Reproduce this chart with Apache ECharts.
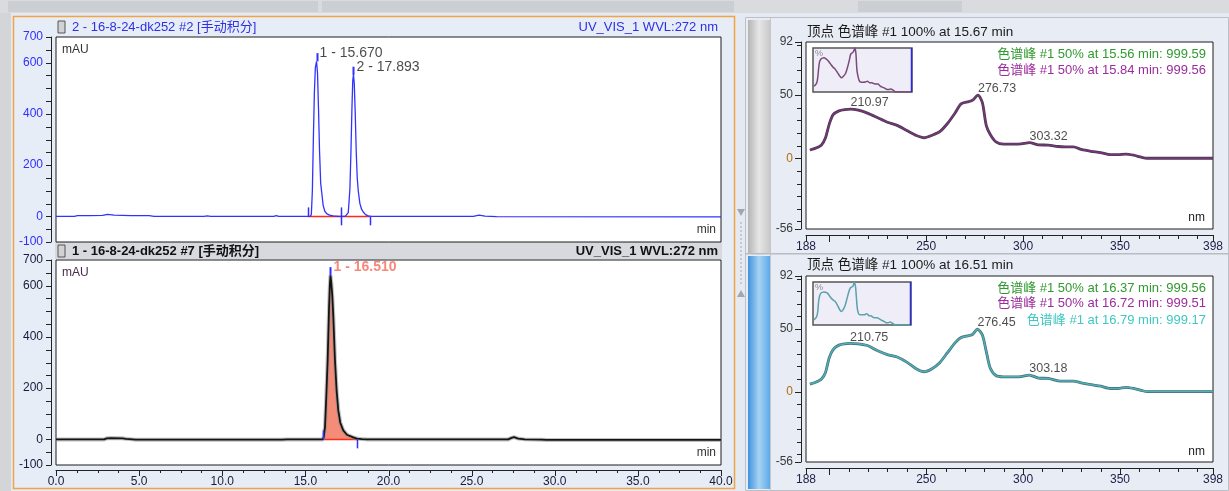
<!DOCTYPE html>
<html>
<head>
<meta charset="utf-8">
<script src="https://cdn.jsdelivr.net/npm/echarts@6/dist/echarts.min.js"></script>
<style>
  html, body { margin: 0; padding: 0; background: #e4e9f2; }
  #chart { width: 1229px; height: 491px; }
</style>
</head>
<body>
<div id="chart"></div>
<script>
// ---------- Chromatograms: [retention time (min), signal (mAU)] ----------
const traceSample2 = [
  [0,0],[1.1,0],[1.3,3],[2.0,3],[2.8,4],[3.1,8],[3.5,5],[4.5,3],[5.6,3],[5.9,0],
  [8.9,0],[9.1,2],[9.3,0],[13.1,0],[13.25,3],[13.4,0],[15.30,0],[15.36,8],[15.42,100],
  [15.48,300],[15.54,480],[15.60,580],[15.67,605],[15.73,560],[15.79,420],[15.85,260],
  [15.92,130],[15.98,95],[16.07,43],[16.17,20],[16.28,11],[16.45,5],[16.67,2],[17.0,0],
  [17.40,0],[17.52,5],[17.58,15],[17.63,60],[17.68,110],[17.74,250],[17.80,420],[17.85,530],
  [17.893,552],[17.94,520],[18.00,400],[18.06,250],[18.12,150],[18.18,100],[18.28,50],
  [18.38,28],[18.48,17],[18.62,7],[18.78,2],[19.0,0],[25.1,0],[25.45,5],[25.8,1],[26.5,-1],[40,-2]
];
const traceSample7 = [
  [0,0],[2.9,0],[3.05,4],[3.3,5],[4.0,4],[4.2,2],[4.6,0],[4.8,-1],[13.6,-1],[13.9,0],
  [16.04,0],[16.10,8],[16.18,48],[16.26,170],[16.34,310],[16.42,505],[16.47,600],[16.51,640],
  [16.56,610],[16.62,560],[16.68,480],[16.78,310],[16.88,190],[16.98,113],[17.10,65],
  [17.28,35],[17.50,18],[17.88,8],[18.10,3],[18.40,1],[18.70,0],[27.20,0],[27.40,6],
  [27.55,9],[27.80,3],[28.20,0],[29.20,-1],[29.50,-2],[40,-2]
];

// Integration cut points (min) and detected peaks
const cutsSample2 = [15.15, 17.14, 18.88];
const cutsSample7 = [16.04, 18.10];
const peakTimesSample2 = [15.670, 17.893];
const peakHeightsSample2 = [605, 552];
const peakTimesSample7 = [16.510];
const peakHeightsSample7 = [640];

// Chromatogram axis ticks
const chromYTicks = [-100,-50,0,50,100,150,200,250,300,350,400,450,500,550,600,650,700];
const chromYLabels = [-100,0,200,400,600,700];
const chromXMajor = [0,5,10,15,20,25,30,35,40];
const chromXMinor = [1.25,2.5,3.75,6.25,7.5,8.75,11.25,12.5,13.75,16.25,17.5,18.75,
  21.25,22.5,23.75,26.25,27.5,28.75,31.25,32.5,33.75,36.25,37.5,38.75];

// ---------- UV spectra at the peak apex ----------
const wavelengthsA = [190,193,196,198,200,202,205,208,210.97,215,220,225,230,235,240,245,249,253,257,261,
  265,268,272,274,276.73,279,281,283,286,290,295,299,303.32,308,313,318,322,326,330,335,
  340,345,349,353,357,361,364,370,380,390,398];
const absorbanceA = [6.5,8,10.5,16,27,34.5,37.5,38.5,38.9,38,35.5,32,28.5,26,22,18,16.2,18.2,21,27.5,
  36,43,44.8,46,50,44,26,19,13,11.2,11.2,11.4,12.3,10.6,10.4,9.3,9,9,7,5.5,
  4.4,2.8,2.8,3.3,2.4,0.8,0,0,0,0,0];
const wavelengthsB = [190,193,196,198,200,202,205,208,210.75,215,220,225,230,235,240,245,249,253,257,261,
  265,268,272,274,276.45,279,281,283,286,290,295,299,303.18,308,313,318,322,326,330,335,
  340,345,349,353,357,361,364,370,380,390,398];
const absorbanceB = [6,7.5,10,15,27,33.5,37,38,38.4,38,36.5,32.5,29.5,27.5,23.5,18,15.8,18.2,23,31,
  39,43,44.5,45.5,49.8,45,32,19,12.8,11.8,11.8,12,13.2,10.8,10.5,8.6,8.4,8.4,7,5.5,
  4.3,2.5,2.5,3.4,2.5,1,0,0,0,0,0];
const spectrumPeaksA = [210.97, 276.73, 303.32];
const spectrumPeaksB = [210.75, 276.45, 303.18];

// Spectrum axis ticks
const specXTicks = [188,200,210,220,230,240,250,260,270,280,290,300,310,320,330,340,350,360,370,380,390,398];
const specXMajor = [188,200,250,300,350,398];
const specXLabels = [188,250,300,350,398];
const specYTicks = [-56,-50,-40,-30,-20,-10,0,10,20,30,40,50,60,70,80,90,92];
const specYLabels = [-56,0,50,92];

// ---------- helpers ----------
const FONT = "'Liberation Sans', Arial, 'Noto Sans CJK SC', sans-serif";
const CUT_LEN = 35;      // length of integration cut marks, mAU
const APEX_LEN = 32;     // length of apex marks, mAU

function cutMarks(cuts) {
  return cuts.map((t, i) => {
    if (i === 0) return [t, 0, CUT_LEN];
    if (i === cuts.length - 1) return [t, -CUT_LEN, 0];
    return [t, -CUT_LEN, CUT_LEN];
  });
}
function vTicks(grid, items, color, width) {
  return {
    type: 'custom', xAxisIndex: grid, yAxisIndex: grid, silent: true, z: 6,
    data: items, encode: { x: 0, y: [1, 2] },
    renderItem(params, api) {
      const a = api.coord([api.value(0), api.value(1)]);
      const b = api.coord([api.value(0), api.value(2)]);
      const x = Math.round(a[0]) + 0.5;
      return { type: 'line', shape: { x1: x, y1: a[1], x2: x, y2: b[1] },
               style: { stroke: color, lineWidth: width } };
    }
  };
}
// Axis tick marks placed just outside the plot frame, next to the offset axis line
function tickMarks(grid, side, values, ref, len, offset) {
  return {
    type: 'custom', xAxisIndex: grid, yAxisIndex: grid, silent: true, clip: false, z: 6,
    data: values.map(v => (side === 'left' ? [ref, v] : [v, ref])),
    encode: { x: 0, y: 1 },
    renderItem(params, api) {
      const p = api.coord([api.value(0), api.value(1)]);
      let shape;
      if (side === 'left') {
        const y = Math.round(p[1]) + 0.5;
        shape = { x1: p[0] - offset - len, y1: y, x2: p[0] - offset, y2: y };
      } else {
        const x = Math.round(p[0]) + 0.5;
        shape = { x1: x, y1: p[1] + offset, x2: x, y2: p[1] + offset + len };
      }
      return { type: 'line', shape, style: { stroke: '#222', lineWidth: 1 } };
    }
  };
}
function pairs(xs, ys) { return xs.map((x, i) => [x, ys[i]]); }

const chromYAxis = (grid, labelColor) => ({
  gridIndex: grid, type: 'value', min: -100, max: 700, offset: 5,
  axisLine: { show: true, onZero: false, lineStyle: { color: '#222' } },
  axisTick: { show: false },
  axisLabel: { customValues: chromYLabels, color: labelColor, fontSize: 12, fontFamily: FONT, margin: 8 },
  splitLine: { show: false }
});
const specXAxis = (grid) => ({
  gridIndex: grid, type: 'value', min: 188, max: 398, position: 'bottom', offset: 6,
  axisLine: { show: true, onZero: false, lineStyle: { color: '#222' } },
  axisTick: { show: false },
  axisLabel: { customValues: specXLabels, color: '#23234a', fontSize: 12, fontFamily: FONT, margin: 6 },
  splitLine: { show: false }
});
const specYAxis = (grid) => ({
  gridIndex: grid, type: 'value', min: -56, max: 92, position: 'left', offset: 5,
  axisLine: { show: true, onZero: false, lineStyle: { color: '#222' } },
  axisTick: { show: false },
  axisLabel: { customValues: specYLabels, fontSize: 12, fontFamily: FONT, margin: 8,
               color: (v) => (Number(v) === 0 ? '#b36a12' : '#3a3a3a') },
  splitLine: { show: false }
});
const hiddenAxis = (grid, min, max) => ({ gridIndex: grid, type: 'value', min, max, show: false });

function peakLabels(grid, times, heights, color, bold) {
  return {
    type: 'scatter', xAxisIndex: grid, yAxisIndex: grid, symbolSize: 0.1, z: 7,
    itemStyle: { color: 'rgba(0,0,0,0)' },
    data: times.map((t, i) => ({ value: [t, heights[i] + APEX_LEN], name: `${i + 1} - ${t.toFixed(3)}` })),
    label: { show: true, position: 'right', distance: 3, formatter: '{b}', color,
             fontSize: 14, fontWeight: bold ? 'bold' : 'normal', fontFamily: FONT }
  };
}
function spectrumLabels(grid, peaks, wl, ab) {
  return {
    type: 'scatter', xAxisIndex: grid, yAxisIndex: grid, symbolSize: 0.1, z: 7,
    itemStyle: { color: 'rgba(0,0,0,0)' },
    data: peaks.map(p => ({ value: [p, ab[wl.indexOf(p)]], name: p.toFixed(2) })),
    label: { show: true, position: 'top', align: 'left', distance: 0, formatter: '{b}',
             color: '#1e1e1e', fontSize: 12.5, fontFamily: FONT }
  };
}
function spectrumLine(grid, data, edge, core, edgeWidth, coreWidth) {
  return [
    { type: 'line', xAxisIndex: grid, yAxisIndex: grid, data, symbol: 'none', smooth: 0.25,
      lineStyle: { color: edge, width: edgeWidth }, z: 3 },
    { type: 'line', xAxisIndex: grid, yAxisIndex: grid, data, symbol: 'none', smooth: 0.25,
      lineStyle: { color: core, width: coreWidth }, z: 4 }
  ];
}

// ---------- window chrome ----------
const rect = (x, y, w, h, fill, extra) => Object.assign({ type: 'rect', z: -10, silent: true,
  shape: { x, y, width: w, height: h }, style: { fill } }, extra || {});
const txt = (x, y, text, fill, opts) => {
  opts = opts || {};
  return { type: 'text', x, y, z: 20, silent: true,
    style: { text, fill, font: `${opts.weight || 'normal'} ${opts.size || 12}px ${FONT}`,
             textAlign: opts.align || 'left', textVerticalAlign: 'middle' } };
};
const hGrad = (stops) => ({ type: 'linear', x: 0, y: 0, x2: 1, y2: 0,
  colorStops: stops.map((c, i) => ({ offset: i / (stops.length - 1), color: c })) });

const chrome = [
  rect(0, 0, 1229, 491, '#e4e9f2'),
  rect(0, 0, 1229, 13, '#dadbde'),
  rect(8, 1, 310, 11, '#cbced3'), rect(322, 1, 412, 11, '#cbced3'), rect(858, 1, 104, 11, '#cbced3'),
  rect(0, 13, 11, 478, '#d3d5d9'),
  rect(13.5, 16.5, 721, 472, '#e7edf7', { style: { fill: '#e7edf7', stroke: '#f0a444', lineWidth: 1.5 } }),
  rect(55, 242, 667, 17, '#d7d9de'),
  rect(745.5, 17.5, 483, 473, '#e8edf5', { style: { fill: '#e8edf5', stroke: '#bcc0c8', lineWidth: 1 } }),
  rect(748, 20, 22, 233, '', { style: { fill: hGrad(['#b4b4b4', '#e6e6e6', '#c9c9c9']) } }),
  rect(748, 256, 22, 233, '', { style: { fill: hGrad(['#3f92dc', '#a6d3f4', '#5eaae8']) } }),
  rect(770, 18, 1, 472, '#c4c7cc'),
  rect(746, 253, 483, 1.5, '#b8bcc4'),
  { type: 'polygon', z: -9, silent: true, shape: { points: [[737, 209], [745, 209], [741, 216]] }, style: { fill: '#a4a6aa' } },
  { type: 'polygon', z: -9, silent: true, shape: { points: [[737, 297], [745, 297], [741, 290]] }, style: { fill: '#a4a6aa' } },
  { type: 'line', z: -9, silent: true, shape: { x1: 741, y1: 222, x2: 741, y2: 285 },
    style: { stroke: '#a8aaae', lineWidth: 1, lineDash: [2, 2] } },
  rect(58, 21, 7, 12, '#d2d2d2', { z: 15, style: { fill: '#d2d2d2', stroke: '#555', lineWidth: 1 } }),
  rect(58, 245, 7, 12, '#d2d2d2', { z: 15, style: { fill: '#d2d2d2', stroke: '#555', lineWidth: 1 } }),
  { type: 'line', z: 15, silent: true, shape: { x1: 911.5, y1: 48, x2: 911.5, y2: 92 }, style: { stroke: '#2a2ae0', lineWidth: 1.5 } },
  { type: 'line', z: 15, silent: true, shape: { x1: 910.5, y1: 282, x2: 910.5, y2: 325 }, style: { stroke: '#2a2ae0', lineWidth: 1.5 } },

  txt(72, 27, '2 - 16-8-24-dk252 #2 [手动积分]', '#2f2fe6', { size: 13 }),
  txt(718, 27, 'UV_VIS_1 WVL:272 nm', '#2f2fe6', { align: 'right', size: 13 }),
  txt(72, 251, '1 - 16-8-24-dk252 #7 [手动积分]', '#111', { weight: 'bold', size: 13 }),
  txt(718, 251, 'UV_VIS_1 WVL:272 nm', '#111', { weight: 'bold', align: 'right', size: 13 }),
  txt(62, 50, 'mAU', '#333'),
  txt(62, 273, 'mAU', '#4a2a4e'),
  txt(716, 230, 'min', '#333', { align: 'right' }),
  txt(716, 453, 'min', '#333', { align: 'right' }),

  txt(807, 32, '顶点 色谱峰 #1 100% at 15.67 min', '#1a1a1a', { size: 13.5 }),
  txt(1206, 54, '色谱峰 #1 50% at 15.56 min: 999.59', '#2f9a2f', { align: 'right', size: 13 }),
  txt(1206, 70, '色谱峰 #1 50% at 15.84 min: 999.56', '#9c2c9c', { align: 'right', size: 13 }),
  txt(1205, 218, 'nm', '#222', { align: 'right' }),
  txt(815, 54, '%', '#8a8a8a', { size: 9 }),

  txt(807, 265, '顶点 色谱峰 #1 100% at 16.51 min', '#1a1a1a', { size: 13.5 }),
  txt(1206, 288, '色谱峰 #1 50% at 16.37 min: 999.56', '#2f9a2f', { align: 'right', size: 13 }),
  txt(1206, 303, '色谱峰 #1 50% at 16.72 min: 999.51', '#9c2c9c', { align: 'right', size: 13 }),
  txt(1206, 320, '色谱峰 #1 at 16.79 min: 999.17', '#3ec8c2', { align: 'right', size: 13 }),
  txt(1205, 452, 'nm', '#222', { align: 'right' }),
  txt(815, 288, '%', '#8a8a8a', { size: 9 })
];

// ---------- chart ----------
const fillSample7 = traceSample7.filter(p => p[0] >= cutsSample7[0] && p[0] <= cutsSample7[cutsSample7.length - 1]);
const gridBox = { show: true, backgroundColor: '#ffffff', borderColor: '#1c1c1c', borderWidth: 1, outerBoundsMode: 'none' };

const option = {
  animation: false,
  backgroundColor: '#e4e9f2',
  graphic: { elements: chrome },
  grid: [
    Object.assign({ left: 56, top: 37, width: 665, height: 205 }, gridBox),
    Object.assign({ left: 56, top: 260, width: 665, height: 205 }, gridBox),
    Object.assign({ left: 806, top: 42, width: 407, height: 187 }, gridBox),
    Object.assign({ left: 806, top: 276, width: 407, height: 186 }, gridBox),
    Object.assign({}, gridBox, { left: 813, top: 48, width: 99, height: 44, backgroundColor: '#efedf8', borderColor: '#555', borderWidth: 1.5 }),
    Object.assign({}, gridBox, { left: 813, top: 282, width: 98, height: 43, backgroundColor: '#efedf8', borderColor: '#555', borderWidth: 1.5 })
  ],
  xAxis: [
    hiddenAxis(0, 0, 40),
    { gridIndex: 1, type: 'value', min: 0, max: 40, interval: 5, offset: 5,
      axisLine: { show: true, onZero: false, lineStyle: { color: '#222' } },
      axisTick: { show: false },
      axisLabel: { formatter: v => v.toFixed(1), color: '#1a1a3a', fontSize: 12, fontFamily: FONT, margin: 6 },
      splitLine: { show: false } },
    specXAxis(2),
    specXAxis(3),
    hiddenAxis(4, 188, 398),
    hiddenAxis(5, 188, 398)
  ],
  yAxis: [
    chromYAxis(0, '#2f2fff'),
    chromYAxis(1, '#1a1a3a'),
    specYAxis(2),
    specYAxis(3),
    hiddenAxis(4, 0, 50),
    hiddenAxis(5, 0, 50)
  ],
  series: [
    // axis tick marks
    tickMarks(0, 'left', chromYTicks, 0, 5, 5),
    tickMarks(1, 'left', chromYTicks, 0, 5, 5),
    tickMarks(1, 'bottom', chromXMajor, -100, 6, 5),
    tickMarks(1, 'bottom', chromXMinor, -100, 3, 5),
    tickMarks(2, 'left', specYTicks, 188, 4, 5),
    tickMarks(2, 'left', specYLabels, 188, 6, 5),
    tickMarks(2, 'bottom', specXTicks, -56, 4, 6),
    tickMarks(2, 'bottom', specXMajor, -56, 7, 6),
    tickMarks(3, 'left', specYTicks, 188, 4, 5),
    tickMarks(3, 'left', specYLabels, 188, 6, 5),
    tickMarks(3, 'bottom', specXTicks, -56, 4, 6),
    tickMarks(3, 'bottom', specXMajor, -56, 7, 6),

    // Sample #2 chromatogram
    { type: 'line', xAxisIndex: 0, yAxisIndex: 0, data: [[cutsSample2[0], 0], [cutsSample2[cutsSample2.length - 1], 0]],
      symbol: 'none', lineStyle: { color: '#ff2a1a', width: 1.5 }, z: 3 },
    { type: 'line', xAxisIndex: 0, yAxisIndex: 0, data: traceSample2, symbol: 'none',
      lineStyle: { color: '#3232ff', width: 1.3 }, z: 4 },
    vTicks(0, cutMarks(cutsSample2), '#2f2fff', 1.5),
    vTicks(0, peakTimesSample2.map((t, i) => [t, peakHeightsSample2[i], peakHeightsSample2[i] + APEX_LEN]), '#2f2fff', 2),
    peakLabels(0, peakTimesSample2, peakHeightsSample2, '#1a1a1a', false),

    // Sample #7 chromatogram with integrated area
    { type: 'line', xAxisIndex: 1, yAxisIndex: 1, data: fillSample7, symbol: 'none',
      lineStyle: { width: 0 }, areaStyle: { color: '#f58c78', opacity: 1, origin: 0 }, z: 2 },
    { type: 'line', xAxisIndex: 1, yAxisIndex: 1, data: [[cutsSample7[0], 0], [cutsSample7[cutsSample7.length - 1], 0]],
      symbol: 'none', lineStyle: { color: '#ff2a1a', width: 1.5 }, z: 3 },
    { type: 'line', xAxisIndex: 1, yAxisIndex: 1, data: traceSample7, symbol: 'none',
      lineStyle: { color: '#8c8c8c', width: 4, opacity: 0.55 }, z: 3 },
    { type: 'line', xAxisIndex: 1, yAxisIndex: 1, data: traceSample7, symbol: 'none',
      lineStyle: { color: '#141414', width: 1.8 }, z: 4 },
    vTicks(1, cutMarks(cutsSample7), '#2f2fff', 1.5),
    vTicks(1, peakTimesSample7.map((t, i) => [t, peakHeightsSample7[i], peakHeightsSample7[i] + APEX_LEN]), '#2f2fff', 2),
    peakLabels(1, peakTimesSample7, peakHeightsSample7, '#f46a58', true),

    // Apex spectra
    ...spectrumLine(2, pairs(wavelengthsA, absorbanceA), '#4a3a4c', '#76367a', 2.8, 1.5),
    spectrumLabels(2, spectrumPeaksA, wavelengthsA, absorbanceA),
    ...spectrumLine(3, pairs(wavelengthsB, absorbanceB), '#3e6e74', '#53adb6', 2.8, 1.5),
    spectrumLabels(3, spectrumPeaksB, wavelengthsB, absorbanceB),

    // Thumbnails
    { type: 'line', xAxisIndex: 4, yAxisIndex: 4, data: pairs(wavelengthsA, absorbanceA), symbol: 'none', smooth: 0.25,
      lineStyle: { color: '#7a4a7c', width: 1.5 }, z: 4 },
    { type: 'line', xAxisIndex: 5, yAxisIndex: 5, data: pairs(wavelengthsB, absorbanceB), symbol: 'none', smooth: 0.25,
      lineStyle: { color: '#5aa2ac', width: 1.5 }, z: 4 }
  ]
};

const chart = echarts.init(document.getElementById('chart'), null, { renderer: 'canvas' });
chart.setOption(option);
</script>
</body>
</html>
